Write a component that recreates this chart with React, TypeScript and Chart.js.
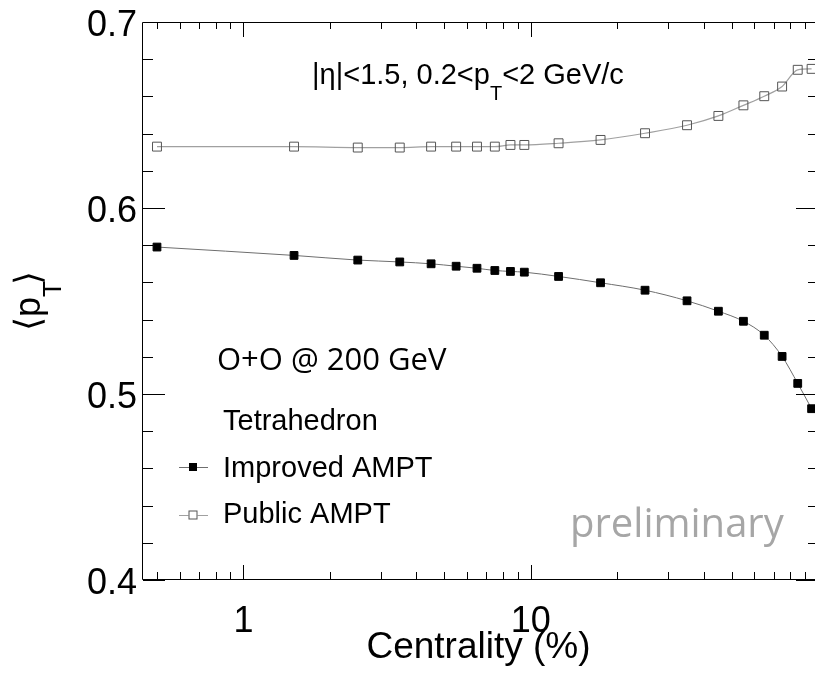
import React, { useEffect, useRef } from 'react';
import { Chart, registerables } from 'chart.js';

Chart.register(...registerables);

// ---- data ----
const centrality = [0.5, 1.5, 2.5, 3.5, 4.5, 5.5, 6.5, 7.5, 8.5, 9.5, 12.5, 17.5, 25, 35, 45, 55, 65, 75, 85, 95];
const improvedAMPT = [0.579, 0.5745, 0.572, 0.571, 0.57, 0.5687, 0.5676, 0.5664, 0.5659, 0.5655, 0.5632, 0.5598, 0.5558, 0.5501, 0.5445, 0.5391, 0.5316, 0.5202, 0.5057, 0.4921];
const publicAMPT = [0.633, 0.633, 0.6325, 0.6325, 0.633, 0.633, 0.633, 0.633, 0.6339, 0.6339, 0.6348, 0.6366, 0.6402, 0.6445, 0.6495, 0.6552, 0.6601, 0.6653, 0.6743, 0.6748];
const seriesNames = ['Improved AMPT', 'Public AMPT'];

const xMajorTicks = [1, 10, 100];
const xTickLabels = ['1', '10', '100'];
const xMinorTicks = [0.5, 0.6, 0.7, 0.8, 0.9, 2, 3, 4, 5, 6, 7, 8, 9, 20, 30, 40, 50, 60, 70, 80, 90];
const yMajorTicks = [0.4, 0.5, 0.6, 0.7];
const yTickLabels = ['0.4', '0.5', '0.6', '0.7'];
const yMinorTicks = [0.42, 0.44, 0.46, 0.48, 0.52, 0.54, 0.56, 0.58, 0.62, 0.64, 0.66, 0.68];

const xMin = 0.447;
const xMax = 100;
const yMin = 0.4;
const yMax = 0.7;

const HELV = '"Liberation Sans", Arial, Helvetica, sans-serif';
const SANS2 = '"Open Sans", "Noto Sans", sans-serif';
const VISIBLE_WIDTH = 815;

const rootPlugin = {
  id: 'rootStyle',
  afterDraw(chart: any) {
    const { ctx, chartArea, scales } = chart;
    const { left, right, top, bottom } = chartArea;
    const xs = scales.x;
    const ys = scales.y;
    ctx.save();
    ctx.strokeStyle = '#000';
    ctx.lineWidth = 1;
    // frame
    ctx.beginPath();
    ctx.rect(left - 0.5, top + 0.5, right - left, bottom - top - 1);
    ctx.stroke();

    const line = (x1: number, y1: number, x2: number, y2: number) => {
      ctx.beginPath();
      ctx.moveTo(x1, y1);
      ctx.lineTo(x2, y2);
      ctx.stroke();
    };
    // x ticks
    xMajorTicks.forEach((v) => {
      const px = Math.round(xs.getPixelForValue(v)) + 0.5;
      line(px, bottom, px, bottom - 15);
      line(px, top, px, top + 15);
    });
    xMinorTicks.forEach((v) => {
      const px = Math.round(xs.getPixelForValue(v)) + 0.5;
      line(px, bottom, px, bottom - 8);
      line(px, top, px, top + 7);
    });
    // y ticks
    yMajorTicks.forEach((v) => {
      const py = Math.round(ys.getPixelForValue(v)) + 0.5;
      line(left, py, left + 22, py);
      line(right, py, right - 22, py);
    });
    yMinorTicks.forEach((v) => {
      const py = Math.round(ys.getPixelForValue(v)) + 0.5;
      line(left, py, left + 10, py);
      line(right, py, right - 10, py);
    });

    // tick labels
    ctx.fillStyle = '#000';
    ctx.font = `36px ${HELV}`;
    ctx.textBaseline = 'alphabetic';
    ctx.textAlign = 'right';
    yMajorTicks.forEach((v, i) => {
      const py = ys.getPixelForValue(v);
      ctx.fillText(yTickLabels[i], left - 6, py + 14);
    });
    ctx.textAlign = 'center';
    xMajorTicks.forEach((v, i) => {
      const px = xs.getPixelForValue(v);
      const w = ctx.measureText(xTickLabels[i]).width;
      if (px + w / 2 < VISIBLE_WIDTH) ctx.fillText(xTickLabels[i], px, bottom + 52);
    });

    // x title
    ctx.font = `37px ${HELV}`;
    ctx.textAlign = 'center';
    ctx.fillText('Centrality (%)', 478.5, 658);

    // y title <p_T> rotated
    ctx.save();
    ctx.translate(40, 301);
    ctx.rotate(-Math.PI / 2);
    ctx.textAlign = 'left';
    const big = `36px ${HELV}`;
    const small = `26px ${HELV}`;
    ctx.font = big;
    const wL = ctx.measureText('⟨').width;
    const wP = ctx.measureText('p').width;
    const wR = ctx.measureText('⟩').width;
    ctx.font = small;
    const wT = ctx.measureText('T').width;
    const total = wL + wP + wT + wR - 4;
    let cx = -total / 2;
    ctx.font = big;
    ctx.fillText('⟨', cx, 0);
    cx += wL;
    ctx.fillText('p', cx, 0);
    cx += wP;
    ctx.font = small;
    ctx.fillText('T', cx, 21);
    cx += wT - 4;
    ctx.font = big;
    ctx.fillText('⟩', cx, 0);
    ctx.restore();

    // top annotation
    ctx.textAlign = 'left';
    ctx.font = `29px ${HELV}`;
    let tx = 312;
    const s1 = '|η|<1.5, 0.2<p';
    ctx.fillText(s1, tx, 84);
    tx += ctx.measureText(s1).width;
    ctx.font = `20px ${HELV}`;
    ctx.fillText('T', tx, 100);
    tx += ctx.measureText('T').width;
    ctx.font = `29px ${HELV}`;
    ctx.fillText('<2 GeV/c', tx, 84);

    // O+O label
    ctx.font = `31px ${SANS2}`;
    ctx.fillText('O+O @ 200 GeV', 217, 370);

    // preliminary
    ctx.fillStyle = '#a6a6a6';
    ctx.font = `40px ${SANS2}`;
    ctx.fillText('preliminary', 570, 537);

    // legend
    ctx.fillStyle = '#000';
    ctx.font = `29px ${HELV}`;
    ctx.fillText('Tetrahedron', 223, 430);
    const ds = chart.data.datasets;
    const rows = [
      { y: 467, base: 477 },
      { y: 515, base: 523 },
    ];
    rows.forEach((r, i) => {
      const d = ds[i];
      ctx.strokeStyle = d.borderColor;
      ctx.lineWidth = 1;
      line(179, r.y + 0.5, 208, r.y + 0.5);
      const half = i === 0 ? 4 : 4.5;
      if (i === 0) {
        ctx.fillStyle = '#000';
        ctx.fillRect(193 - half, r.y - half, half * 2, half * 2);
      } else {
        ctx.fillStyle = '#fff';
        ctx.fillRect(193 - half, r.y - half, half * 2, half * 2);
        ctx.strokeStyle = '#555';
        ctx.strokeRect(193 - half + 0.5, r.y - half + 0.5, half * 2 - 1, half * 2 - 1);
      }
      ctx.fillStyle = '#000';
      ctx.fillText(d.label, 223, r.base);
    });

    ctx.restore();
  },
};

export default function App() {
  const ref = useRef<HTMLCanvasElement | null>(null);
  useEffect(() => {
    if (!ref.current) return;
    const chart = new Chart(ref.current, {
      type: 'line',
      data: {
        datasets: [
          {
            label: seriesNames[0],
            data: centrality.map((c, i) => ({ x: c, y: improvedAMPT[i] })),
            borderColor: '#6e6e6e',
            borderWidth: 1,
            pointStyle: 'rect',
            pointRadius: 5.5,
            pointBackgroundColor: '#000',
            pointBorderColor: '#000',
            pointBorderWidth: 1,
            cubicInterpolationMode: 'monotone',
            fill: false,
          },
          {
            label: seriesNames[1],
            data: centrality.map((c, i) => ({ x: c, y: publicAMPT[i] })),
            borderColor: '#a0a0a0',
            borderWidth: 1.2,
            pointStyle: 'rect',
            pointRadius: 6.3,
            pointBackgroundColor: 'rgba(255,255,255,0)',
            pointBorderColor: '#555',
            pointBorderWidth: 1,
            cubicInterpolationMode: 'monotone',
            fill: false,
          },
        ],
      },
      options: {
        responsive: false,
        animation: false,
        devicePixelRatio: 1,
        layout: { padding: { left: 143, right: 12, top: 22, bottom: 95 } },
        plugins: { legend: { display: false }, tooltip: { enabled: false } },
        scales: {
          x: { type: 'logarithmic', min: xMin, max: xMax, display: false },
          y: { type: 'linear', min: yMin, max: yMax, display: false },
        },
      },
      plugins: [rootPlugin],
    } as any);
    return () => chart.destroy();
  }, []);
  return (
    <div style={{ position: 'absolute', left: 0, top: 0, width: 815, height: 675, overflow: 'hidden', background: '#fff' }}>
      <canvas ref={ref} width={830} height={675} style={{ display: 'block', width: 830, height: 675 }} />
    </div>
  );
}
